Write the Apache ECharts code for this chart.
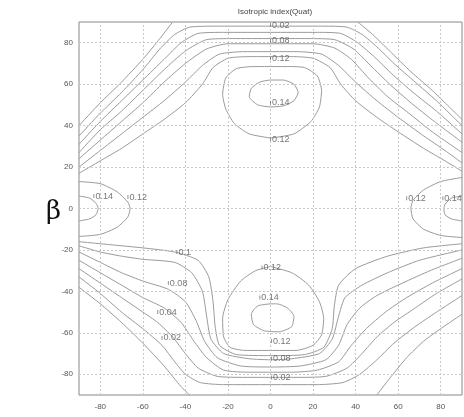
<!DOCTYPE html>
<html><head><meta charset="utf-8">
<script src="https://cdn.jsdelivr.net/npm/echarts@6/dist/echarts.min.js"></script>
<style>html,body{margin:0;padding:0;background:#fff}#c{width:464px;height:417px}</style>
</head><body><div id="c"></div>
<script>
const titleText = 'Isotropic index(Quat)';
const xTicks = [-80,-60,-40,-20,0,20,40,60,80];
const yTicks = [-80,-60,-40,-20,0,20,40,60,80];

// upper family (corner-side contours, top half)
const up00L = [[-90,40],[-80,51],[-70,61],[-60,72],[-52,82],[-46,90]];
const up00R = [[41,90],[48,84],[56,76],[66,66],[76,57],[84,49],[90,43]];
const up02 = [[-90,35],[-80,46],[-70,56],[-60,67],[-52,77],[-45,84],[-38,87.5],[-25,88],[0,88],[25,88],[36,87.5],[43,84],[50,78],[58,70],[68,61],[78,52],[90,40]];
const up04 = [[-90,31],[-80,42],[-70,52],[-60,62],[-50,72],[-42,80],[-34,84.5],[-22,85],[0,85],[22,85],[33,84.5],[41,80],[49,73],[57,65],[67,56],[78,47],[90,36]];
const up06 = [[-90,27],[-80,38],[-70,47],[-60,57],[-50,67],[-40,76],[-30,81.5],[-18,82],[0,82],[18,82],[30,81.5],[39,77],[47,69],[56,60],[66,51],[77,42],[90,32]];
const up08 = [[-90,24],[-80,33],[-70,42],[-60,51],[-50,61],[-40,70],[-30,77],[-20,79.5],[0,79.5],[20,79.5],[30,77.5],[38,72],[46,63],[55,54],[65,46],[76,37],[90,27]];
const up10 = [[-90,20],[-80,28],[-70,36],[-60,44],[-50,52],[-40,61],[-32,69],[-24,74.5],[-12,75.7],[0,75.7],[12,75.7],[24,74.5],[32,69],[40,61],[50,52],[60,44],[72,35],[82,28],[90,22]];
const up11 = [[-90,17],[-80,23],[-70,29],[-60,36],[-50,43],[-40,51],[-32,60],[-27,68],[-20,72.5],[-10,73.3],[0,73.3],[10,73.3],[20,72.5],[28,68],[33,60],[40,52],[50,44],[60,37],[72,29],[82,23],[90,18]];

// lower family (bottom half)
const lo00L = [[-90,-38],[-80,-46],[-70,-55],[-60,-65],[-50,-76],[-42,-86],[-38,-90]];
const lo00R = [[50,-90],[56,-82],[64,-72],[72,-64],[80,-58],[90,-51]];
const lo02 = [[-90,-33],[-80,-41],[-70,-50],[-60,-58],[-51,-66],[-45,-74],[-40,-80],[-33,-84],[-22,-85],[0,-85],[22,-85],[34,-84],[42,-80],[50,-73],[58,-65],[68,-57],[78,-50],[90,-42]];
const lo04 = [[-90,-29],[-80,-36],[-70,-43],[-60,-50],[-53,-55],[-46,-62],[-40,-70],[-34,-77],[-25,-81],[-12,-81.5],[0,-81.5],[12,-81.5],[26,-81],[36,-77],[43,-70],[50,-62],[58,-55],[68,-48],[78,-41],[90,-34]];
const lo06 = [[-90,-25],[-80,-31],[-70,-37],[-60,-43],[-50,-48],[-42,-55],[-36,-64],[-30,-72],[-22,-78],[-10,-79],[0,-79],[10,-79],[22,-78],[32,-74],[38,-66],[45,-58],[54,-50],[64,-43],[76,-36],[90,-29]];
const lo08 = [[-90,-21],[-80,-26],[-70,-31],[-60,-35],[-48,-39],[-40,-45],[-35,-54],[-31,-64],[-25,-72],[-14,-76],[0,-76.5],[14,-76],[26,-73],[32,-66],[36,-56],[42,-48],[50,-42],[62,-36],[75,-30],[90,-24]];
const lo10 = [[-90,-18],[-80,-21],[-70,-23],[-60,-24.5],[-45,-26],[-37,-31],[-32,-40],[-30,-52],[-28,-63],[-22,-70],[-10,-72.5],[0,-73],[10,-72.5],[23,-70],[29,-63],[32,-52],[35,-43],[43,-37],[55,-31],[70,-25],[90,-20]];
const lo11 = [[-90,-16],[-75,-17.5],[-60,-19],[-45,-21],[-34,-25],[-29,-33],[-27,-45],[-26,-57],[-24,-66],[-16,-70.5],[0,-71],[16,-70.5],[25,-67],[29,-58],[30,-47],[32,-37],[40,-29],[55,-23],[72,-19],[90,-17]];

// closed bumps
const topLoop12 = [[0,34],[-10,36],[-17,41],[-21,48],[-22.5,55],[-21,63],[-16,67.5],[-8,68.5],[0,68.5],[8,68.5],[16,68],[22,64],[24,57],[23,49],[19,42],[11,36],[0,34]];
const topLoop14 = [[0,49],[-6,50],[-10,54],[-9,58],[-5,61],[0,62],[6,62],[11,60],[13,56],[11,52],[6,49.5],[0,49]];
const botLoop12 = [[0,-28],[10,-31],[18,-37],[23,-45],[25,-53],[24,-61],[20,-66],[12,-68.5],[0,-68.5],[-12,-68.5],[-19,-67],[-22,-62],[-22.5,-53],[-20,-44],[-14,-35],[-7,-30],[0,-28]];
const botLoop14 = [[0,-46],[-6,-47],[-9,-51],[-8,-56],[-3,-59],[4,-59.5],[10,-57],[11,-52],[8,-48],[3,-46],[0,-46]];
const leftLoop12 = [[-90,13],[-80,12],[-72,8],[-67,3],[-66,0],[-67,-4],[-72,-9],[-80,-12.5],[-90,-13.5]];
const leftLoop14 = [[-90,6],[-85,5],[-82,2.5],[-81,0],[-82,-3],[-85,-5],[-90,-6]];
const rightLoop12 = [[90,15],[80,13],[72,9],[67,4],[66,0],[67,-5],[72,-10],[80,-13],[90,-14]];
const rightLoop14 = [[90,6],[85,5],[82,2],[81.5,0],[82,-3],[85,-5],[90,-6]];

// contour labels
const labelText = ['0.02','0.08','0.12','0.14','0.12','0.14','0.12','0.12','0.14','0.1','0.08','0.04','0.02','0.12','0.14','0.12','0.08','0.02'];
const labelX = [0,0,0,0,0,-83,-67,64,81,-44,-48,-53,-51,-4,-5,0.5,0.5,0.5];
const labelY = [88.5,81,72.5,51,33.5,6,5.5,5,5,-21,-36,-50,-62.5,-28.5,-43,-64,-72.5,-81.5];

const contours = [up00L,up00R,up02,up04,up06,up08,up10,up11,lo00L,lo00R,lo02,lo04,lo06,lo08,lo10,lo11,
  topLoop12,topLoop14,botLoop12,botLoop14,leftLoop12,leftLoop14,rightLoop12,rightLoop14];

const chart = echarts.init(document.getElementById('c'), null, {renderer:'canvas'});
const axisCommon = {
  type:'value', min:-90, max:90,
  axisLine:{show:false, onZero:false},
  axisTick:{show:false},
  splitLine:{show:false},
  axisLabel:{color:'#555', fontSize:8, fontFamily:'Liberation Sans'}
};
const series = contours.map(c => ({
  type:'line', data:c, showSymbol:false, symbol:'none', smooth:0.2, silent:true,
  lineStyle:{color:'#9a9a9a', width:1}, z:3
}));
series.push({
  type:'line', data:[], silent:true,
  markLine:{silent:true, symbol:'none', label:{show:false},
    lineStyle:{color:'#c8c8c8', type:[2,2], width:1},
    data: xTicks.map(v=>({xAxis:v})).concat(yTicks.map(v=>({yAxis:v})))}
});
series.push({
  type:'scatter', symbol:'rect', symbolSize:[1,4], itemStyle:{color:'#777'}, z:5,
  data: labelText.map((t,i)=>[labelX[i], labelY[i], t]),
  label:{show:true, position:'right', distance:1, formatter:p=>p.data[2], color:'#555', fontSize:9, fontFamily:'Liberation Sans'}
});
chart.setOption({
  animation:false,
  backgroundColor:'#fff',
  title:{text:titleText, left:270, top:3, textAlign:'center', textStyle:{fontSize:8, fontWeight:'normal', color:'#444', fontFamily:'Liberation Sans'}},
  grid:{left:79, right:2, top:22, bottom:22, show:true, borderColor:'#888', borderWidth:1},
  xAxis:Object.assign({}, axisCommon, {axisLabel:Object.assign({}, axisCommon.axisLabel, {customValues:xTicks, margin:8})}),
  yAxis:Object.assign({}, axisCommon, {axisLabel:Object.assign({}, axisCommon.axisLabel, {customValues:yTicks, margin:6})}),
  graphic:[{type:'text', left:46, top:199, style:{text:'β', font:'26px "DejaVu Serif"', fill:'#111'}}],
  series:series
});
</script></body></html>
